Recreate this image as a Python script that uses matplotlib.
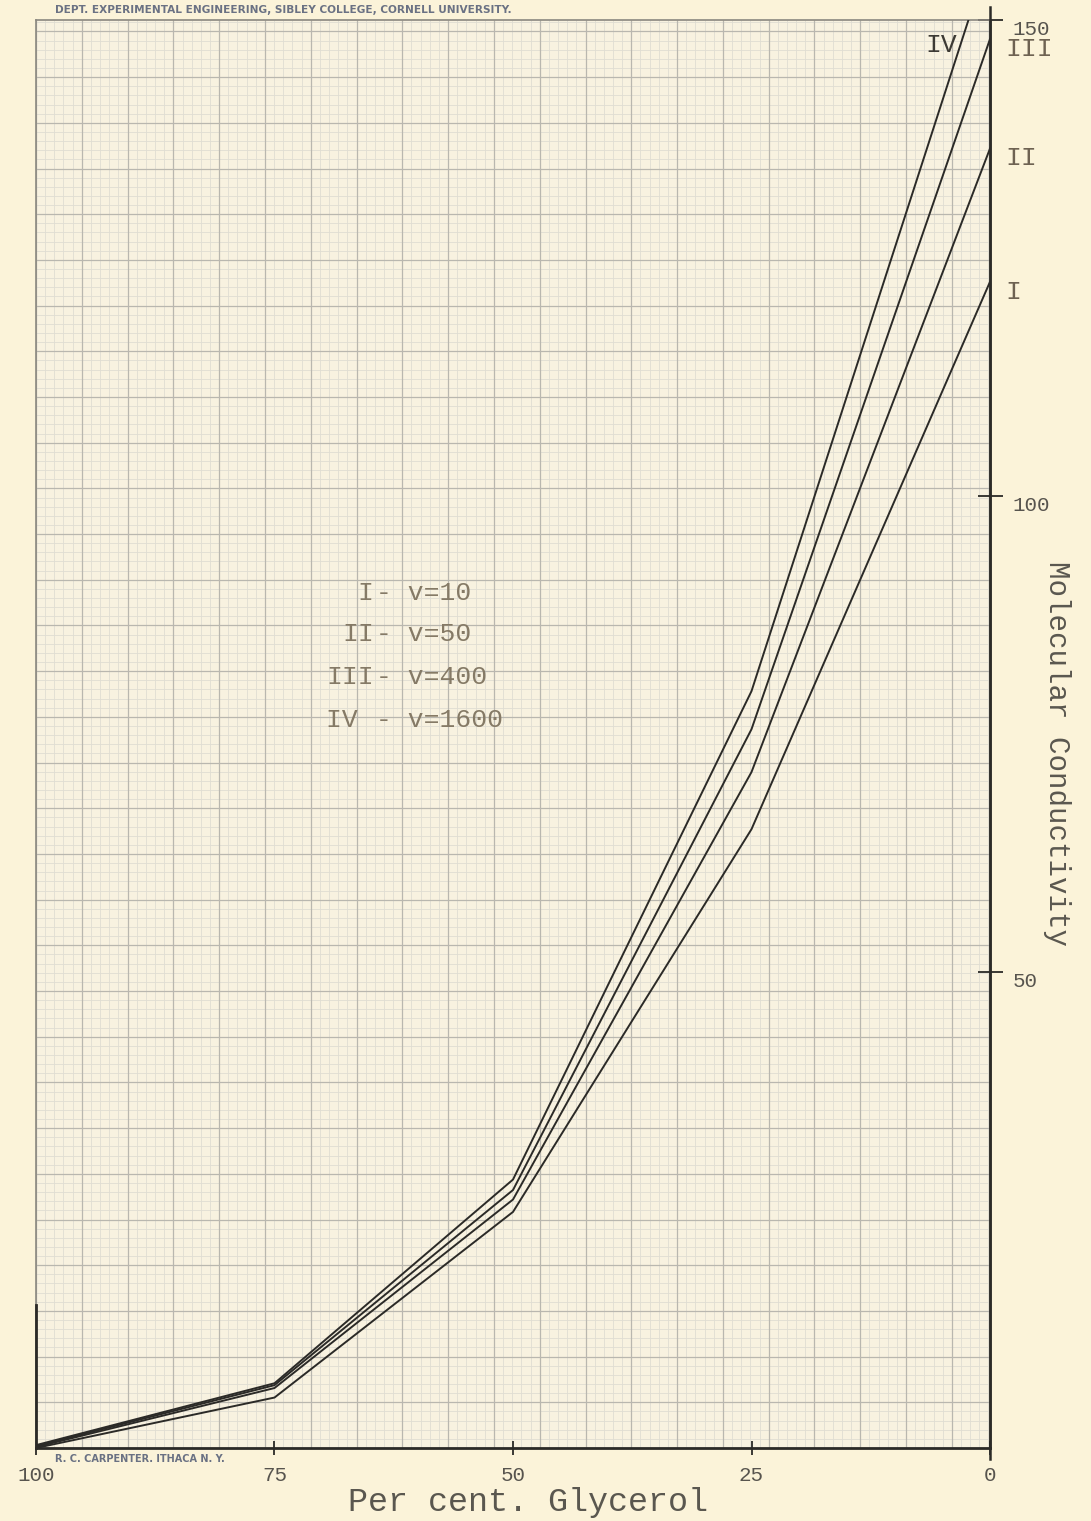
import numpy as np
import matplotlib
matplotlib.use("Agg")
import matplotlib.pyplot as plt

# per cent glycerol (x) and molecular conductivity for each dilution
glycerol = [100, 75, 50, 25, 0]
curve_I = [0.0, 5.3, 24.8, 65.0, 122.5]
curve_II = [0.1, 6.3, 26.1, 71.0, 136.5]
curve_III = [0.2, 6.6, 27.1, 75.5, 148.0]
curve_IV = [0.3, 6.8, 28.2, 79.5, 157.0]

curve_names = ["I", "II", "III", "IV"]
legend_numerals = ["I", "II", "III", "IV "]
legend_values = ["- v=10", "- v=50", "- v=400", "- v=1600"]

x_ticks = [100, 75, 50, 25, 0]
y_ticks = [50, 100, 150]

paper = "#fbf3d9"
ink = "#2b2a27"
pencil = "#6e6252"
mono = "Liberation Mono"


def main():
    fig = plt.figure(figsize=(10.91, 15.21), dpi=100, facecolor=paper)
    ax = fig.add_axes([36 / 1091, 1 - 1448 / 1521, 954 / 1091, 1428 / 1521])
    ax.set_facecolor("#f8f2e0")
    ax.set_xlim(100, 0)
    ax.set_ylim(0, 150)

    # graph paper ruling
    step = 4.8
    minor_x = np.arange(100, -0.01, -step / 5)
    minor_y = np.arange(0, 150.01, step / 5)
    ax.vlines(minor_x, 0, 150, color="#e0ddd2", lw=0.6, zorder=0)
    ax.hlines(minor_y, 0, 100, color="#e0ddd2", lw=0.6, zorder=0)
    ax.vlines(np.arange(100, -0.01, -step), 0, 150, color="#b9b7af", lw=0.9, zorder=0)
    ax.hlines(np.arange(0, 150.01, step), 0, 100, color="#b9b7af", lw=0.9, zorder=0)

    for ys in [curve_I, curve_II, curve_III, curve_IV]:
        ax.plot(glycerol, ys, color=ink, lw=1.4, zorder=3)

    # numerals at the ends of the curves
    ends = [curve_I[-1], curve_II[-1], curve_III[-1]]
    for name, y in zip(curve_names[:3], ends):
        ax.annotate(name, xy=(0, y), xytext=(11, -7), textcoords="offset points",
                    ha="left", va="center", fontsize=19, family=mono,
                    color=pencil, annotation_clip=False)
    ax.text(3.4, 147.4, "IV", ha="right", va="center", fontsize=19,
            family=mono, color="#3d3a34", zorder=4)

    # key
    key_y = [89.8, 85.5, 81.0, 76.5]
    for num, val, y in zip(legend_numerals, legend_values, key_y):
        ax.text(64.6, y, num, ha="right", va="center", fontsize=19,
                family=mono, color="#857a66", zorder=4)
        ax.text(64.4, y, val, ha="left", va="center", fontsize=19,
                family=mono, color="#857a66", zorder=4)

    # axes frame
    for side in ["left", "top"]:
        ax.spines[side].set_color("#8a877f")
        ax.spines[side].set_linewidth(1.2)
    ax.spines["bottom"].set_color(ink)
    ax.spines["bottom"].set_linewidth(2.0)
    ax.spines["right"].set_color(ink)
    ax.spines["right"].set_linewidth(1.8)
    ax.plot([1, 1], [-0.008, 1.009], transform=ax.transAxes, color=ink,
            lw=1.8, clip_on=False, zorder=5)
    ax.plot([0, 0], [0, 0.1], transform=ax.transAxes, color=ink,
            lw=2.0, clip_on=False, zorder=5)

    ax.set_xticks(x_ticks)
    ax.set_xticklabels([str(v) for v in x_ticks])
    ax.tick_params(axis="x", direction="inout", length=10, width=1.3,
                   color=ink, pad=8, labelsize=15, labelcolor="#57544e")
    ax.yaxis.tick_right()
    ax.set_yticks(y_ticks)
    ax.set_yticklabels([str(v) for v in y_ticks])
    ax.tick_params(axis="y", direction="inout", length=18, width=1.3,
                   color=ink, pad=7, labelsize=15, labelcolor="#57544e")
    for lab in ax.get_xticklabels() + ax.get_yticklabels():
        lab.set_family(mono)
    for lab in ax.get_yticklabels():
        lab.set_va("top")

    ax.set_xlabel("Per cent. Glycerol", family=mono, fontsize=24,
                  color="#5a574f", va="top")
    ax.xaxis.set_label_coords(0.516, -0.027)
    ax.yaxis.set_label_position("right")
    ax.set_ylabel("Molecular Conductivity", family=mono, fontsize=21,
                  color="#5a574f", rotation=-90, va="center")
    ax.yaxis.set_label_coords(1.07, 0.486)

    fig.text(55 / 1091, 1 - 10 / 1521,
             "DEPT. EXPERIMENTAL ENGINEERING, SIBLEY COLLEGE, CORNELL UNIVERSITY.",
             fontsize=7.6, weight="bold", color="#6a7183", va="center")
    fig.text(55 / 1091, 1 - 1459 / 1521, "R. C. CARPENTER. ITHACA N. Y.",
             fontsize=7.0, weight="bold", color="#6a7183", va="center")

    fig.savefig("out.png", dpi=100, facecolor=paper)


if __name__ == "__main__":
    main()
